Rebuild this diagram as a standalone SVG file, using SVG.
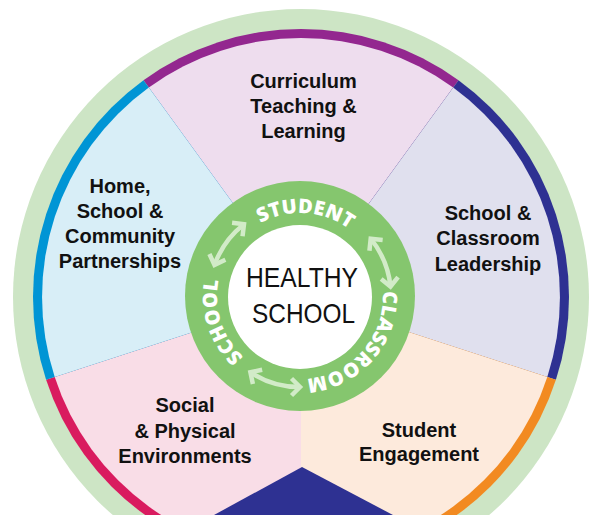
<svg xmlns="http://www.w3.org/2000/svg" width="589" height="515" viewBox="0 0 589 515">
<style>
.lbl{font-family:"Liberation Sans",Arial,sans-serif;font-weight:bold;font-size:20px;fill:#111;text-anchor:middle}
.core{font-family:"Liberation Sans",Arial,sans-serif;font-size:28px;fill:#111;text-anchor:middle}
.ring{font-family:"Open Sans","DejaVu Sans",sans-serif;font-weight:800;font-size:20px;fill:#fff;text-anchor:middle;letter-spacing:0.2px}
.arr{fill:none;stroke:#D2EBC8;stroke-width:4.5}
</style>
<defs>
<path id="tp" d="M 300,379 A 83 83 0 1 1 300,213 A 83 83 0 1 1 300,379"/>
<marker id="hd" markerUnits="userSpaceOnUse" markerWidth="20" markerHeight="22" viewBox="-12 -11 14 22" refX="0" refY="0" orient="auto-start-reverse">
<path d="M -8.5,-8.5 L 0,0 L -8.5,8.5" fill="none" stroke="#D2EBC8" stroke-width="4.5" stroke-linejoin="miter"/>
</marker>
</defs>
<rect width="589" height="515" fill="#fff"/>
<circle cx="301" cy="297" r="288" fill="#CDE5C5"/>
<g id="sector-curriculum">
<path d="M301,297 L143.5,80.2 A268 268 0 0 1 458.5,80.2 Z" fill="#93278F"/>
<path d="M301,297 L148.8,87.5 A259 259 0 0 1 453.2,87.5 Z" fill="#EEDDEE"/>
<text class="lbl" x="303.5" y="88">Curriculum</text>
<text class="lbl" x="303.5" y="113">Teaching &amp;</text>
<text class="lbl" x="303.5" y="138">Learning</text>
</g>
<g id="sector-leadership">
<path d="M301,297 L458.5,80.2 A268 268 0 0 1 555.9,379.8 Z" fill="#2E3192"/>
<path d="M301,297 L453.2,87.5 A259 259 0 0 1 547.3,377 Z" fill="#E0E0EE"/>
<text class="lbl" x="488" y="220">School &amp;</text>
<text class="lbl" x="488" y="245">Classroom</text>
<text class="lbl" x="488" y="271">Leadership</text>
</g>
<g id="sector-engagement">
<path d="M301,297 L555.9,379.8 A268 268 0 0 1 301,565 Z" fill="#F28A21"/>
<path d="M301,297 L547.3,377 A259 259 0 0 1 301,556 Z" fill="#FDEADC"/>
<text class="lbl" x="419" y="437">Student</text>
<text class="lbl" x="419" y="461">Engagement</text>
</g>
<g id="sector-environments">
<path d="M301,297 L301,565 A268 268 0 0 1 46.1,379.8 Z" fill="#D91B5F"/>
<path d="M301,297 L301,556 A259 259 0 0 1 54.7,377 Z" fill="#F9DDE7"/>
<text class="lbl" x="185" y="412">Social</text>
<text class="lbl" x="185" y="438">&amp; Physical</text>
<text class="lbl" x="185" y="463">Environments</text>
</g>
<g id="sector-partnerships">
<path d="M301,297 L46.1,379.8 A268 268 0 0 1 143.5,80.2 Z" fill="#0095D5"/>
<path d="M301,297 L54.7,377 A259 259 0 0 1 148.8,87.5 Z" fill="#D8EEF7"/>
<text class="lbl" x="120" y="193">Home,</text>
<text class="lbl" x="120" y="218">School &amp;</text>
<text class="lbl" x="120" y="243">Community</text>
<text class="lbl" x="120" y="268">Partnerships</text>
</g>
<polygon id="bottom-shape" points="302,467 214,515 393,515" fill="#2E3192"/>
<g id="center-ring">
<circle cx="300" cy="296" r="115" fill="#85C66E"/>
<text class="ring"><textPath href="#tp" startOffset="266">STUDENT</textPath></text>
<text class="ring"><textPath href="#tp" startOffset="450">CLASSROOM</textPath></text>
<text class="ring"><textPath href="#tp" startOffset="104">SCHOOL</textPath></text>
</g>
<g id="connectors">
<path class="arr" d="M 214.5,264.9 A 91 91 0 0 1 244,224.3" marker-start="url(#hd)" marker-end="url(#hd)"/>
<path class="arr" d="M 370.7,238.7 A 91 91 0 0 1 390.5,286.5" marker-start="url(#hd)" marker-end="url(#hd)"/>
<path class="arr" d="M 300,387 A 91 91 0 0 1 250.4,372.3" marker-start="url(#hd)" marker-end="url(#hd)"/>
</g>
<g id="healthy-school">
<circle cx="300" cy="297" r="72" fill="#fff"/>
<text class="core" x="302" y="287" textLength="112" lengthAdjust="spacingAndGlyphs">HEALTHY</text>
<text class="core" x="303.5" y="323" textLength="103" lengthAdjust="spacingAndGlyphs">SCHOOL</text>
</g>
</svg>
